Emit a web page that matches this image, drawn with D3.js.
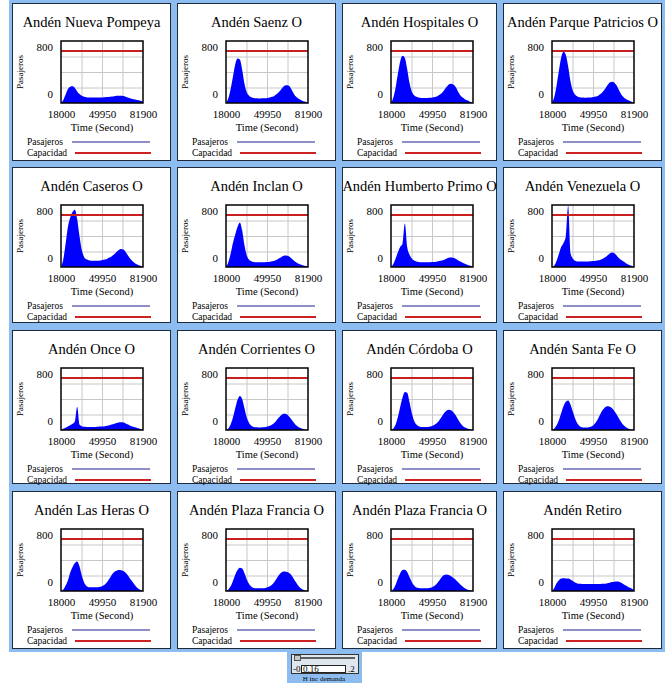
<!DOCTYPE html>
<html lang="es">

<head>
    <meta charset="UTF-8">
    <title>Andenes</title>
    <script src="https://d3js.org/d3.v7.min.js"></script>
</head>
<style>
    body {
        margin: 0;
        background: #fff;
    }

    svg text {
        font-family: "Liberation Serif", "Times New Roman", Times, "DejaVu Serif", serif !important;
        fill: #000;
    }

    .grid line {
        stroke: #c8c8c8;
        stroke-width: 1px;
    }

    .grid path {
        stroke-width: 0;
    }

    .ejeX path,
    .ejeY path {
        stroke-width: 0;
    }
</style>

<body>
    <div id="chart"></div>
</body>
<script>
    // datos
    const tiempo = [18000, 19800, 21600, 23400, 25200, 27000, 28800, 30600, 32400, 34200, 36000, 37800, 39600, 41400, 43200, 45000, 46800, 48600, 50400, 52200, 54000, 55800, 57600, 59400, 61200, 63000, 64800, 66600, 68400, 70200, 72000, 73800, 75600, 77400, 79200, 81000, 81900];

    const andenes = ["Andén Nueva Pompeya", "Andén Saenz O", "Andén Hospitales O", "Andén Parque Patricios O",
        "Andén Caseros O", "Andén Inclan O", "Andén Humberto Primo O", "Andén Venezuela O",
        "Andén Once O", "Andén Corrientes O", "Andén Córdoba O", "Andén Santa Fe O",
        "Andén Las Heras O", "Andén Plaza Francia O", "Andén Plaza Francia O", "Andén Retiro"];

    const nuevaPompeya = [0, 40, 110, 180, 210, 215, 195, 150, 115, 95, 82, 75, 72, 70, 70, 70, 70, 70, 72, 74, 76, 80, 84, 88, 92, 95, 94, 90, 82, 72, 62, 52, 44, 38, 32, 25, 10];
    const saenz = [0, 60, 180, 340, 500, 575, 560, 430, 250, 140, 95, 75, 65, 60, 58, 58, 60, 62, 66, 72, 80, 95, 115, 145, 180, 215, 230, 225, 195, 140, 90, 65, 45, 30, 18, 8, 0];
    const hospitales = [0, 70, 200, 380, 540, 610, 580, 440, 260, 150, 100, 80, 70, 66, 64, 64, 66, 68, 72, 78, 88, 105, 130, 165, 205, 240, 250, 240, 205, 150, 100, 70, 50, 34, 20, 8, 0];
    const parquePatricios = [0, 80, 230, 420, 590, 660, 620, 470, 280, 160, 105, 85, 75, 70, 68, 68, 70, 72, 76, 84, 95, 115, 145, 185, 230, 265, 275, 262, 225, 165, 110, 75, 52, 35, 22, 10, 0];
    const caseros = [0, 100, 300, 520, 640, 710, 740, 620, 400, 220, 130, 100, 88, 82, 80, 80, 82, 85, 90, 98, 108, 122, 140, 165, 195, 220, 232, 225, 195, 150, 105, 75, 50, 32, 18, 8, 0];
    const inclan = [0, 60, 170, 310, 420, 520, 575, 470, 280, 150, 95, 75, 66, 62, 60, 60, 60, 62, 64, 68, 74, 82, 95, 112, 130, 145, 150, 142, 120, 92, 68, 50, 36, 25, 15, 6, 0];
    const humbertoPrimo = [0, 40, 110, 190, 260, 300, 560, 260, 160, 110, 85, 72, 66, 62, 60, 60, 60, 62, 64, 66, 70, 76, 84, 95, 108, 118, 122, 118, 105, 88, 70, 55, 42, 30, 18, 8, 0];
    const venezuela = [0, 20, 80, 170, 260, 310, 400, 790, 180, 110, 80, 72, 70, 70, 70, 70, 72, 74, 76, 80, 86, 95, 108, 125, 150, 175, 186, 178, 150, 112, 90, 70, 48, 32, 18, 8, 0];
    const once = [0, 15, 30, 45, 60, 80, 110, 300, 70, 50, 42, 40, 40, 40, 40, 40, 42, 44, 46, 50, 55, 62, 70, 80, 90, 98, 100, 96, 85, 70, 56, 44, 34, 25, 16, 8, 0];
    const corrientes = [0, 20, 70, 160, 280, 390, 440, 400, 280, 160, 90, 55, 40, 35, 33, 33, 35, 38, 45, 55, 70, 95, 130, 165, 195, 210, 205, 185, 150, 110, 70, 45, 28, 16, 8, 3, 0];
    const cordoba = [0, 20, 70, 170, 300, 420, 490, 480, 360, 220, 120, 70, 48, 40, 38, 38, 40, 45, 55, 70, 95, 130, 175, 220, 250, 262, 255, 230, 190, 140, 90, 55, 32, 18, 10, 4, 0];
    const santaFe = [0, 20, 60, 130, 220, 310, 365, 380, 330, 240, 150, 85, 50, 36, 32, 32, 36, 45, 65, 100, 150, 210, 260, 295, 305, 300, 280, 245, 200, 150, 100, 60, 35, 18, 8, 3, 0];
    const lasHeras = [0, 20, 70, 140, 240, 310, 360, 380, 320, 200, 110, 65, 50, 48, 48, 48, 50, 55, 65, 85, 115, 160, 210, 245, 262, 270, 268, 258, 235, 200, 155, 115, 75, 42, 20, 6, 0];
    const plazaFrancia1 = [0, 20, 60, 130, 210, 270, 300, 290, 230, 150, 90, 55, 40, 36, 35, 35, 36, 40, 48, 62, 85, 120, 165, 210, 240, 252, 250, 240, 215, 175, 125, 80, 45, 22, 10, 3, 0];
    const plazaFrancia2 = [0, 25, 80, 160, 230, 270, 275, 245, 180, 115, 70, 45, 38, 35, 35, 35, 37, 42, 52, 70, 100, 140, 180, 205, 212, 205, 190, 170, 145, 115, 85, 58, 36, 20, 10, 3, 0];
    const retiro = [0, 40, 100, 140, 160, 165, 162, 160, 150, 130, 110, 98, 92, 90, 90, 90, 90, 90, 90, 90, 90, 90, 92, 95, 100, 108, 115, 120, 121, 118, 105, 88, 70, 52, 38, 22, 5];

    const capacidad = [670, 670, 670, 670, 670, 670, 670, 670, 670, 670, 670, 670, 670, 670, 670, 670];

    const xTicks = [18000, 49950, 81900];
    const xGrid = [33975, 49950, 65925];
    const yTicks = [0, 800];
    const yGrid = [200, 400, 600];
    const leyenda = ["Pasajeros", "Capacidad"];

    const slider = { min: "-0", valor: "0.16", max: ".2", nombre: "H inc demanda" };

    const series = [nuevaPompeya, saenz, hospitales, parquePatricios, caseros, inclan, humbertoPrimo, venezuela,
        once, corrientes, cordoba, santaFe, lasHeras, plazaFrancia1, plazaFrancia2, retiro];

    // layout
    const cols = [12, 177, 342, 503], widths = [159, 159, 155, 159];
    const rows = [3, 167, 330, 491], heights = [158, 156, 154, 158];
    const box = { left: 49, right: 131, top: 38, bottom: 100 };

    const svg = d3.select("#chart")
        .append("svg")
        .attr("width", 665)
        .attr("height", 683);

    // fondo azul
    svg.append("rect")
        .attr("x", 9).attr("y", 0)
        .attr("width", 656).attr("height", 652)
        .attr("fill", "#8dbdf0");

    const x = d3.scaleLinear().domain([18000, 81900]).range([box.left, box.right]);
    const y = d3.scaleLinear().domain([0, 800]).range([box.bottom, box.top]);

    const area = d3.area()
        .x((d, i) => x(tiempo[i]))
        .y0(y(0))
        .y1(d => y(d))
        .curve(d3.curveMonotoneX);

    series.forEach((data, k) => {
        const c = k % 4, r = Math.floor(k / 4);
        const w = widths[c], h = heights[r];
        const g = svg.append("g").attr("transform", `translate(${cols[c]}, ${rows[r]})`);

        g.append("rect")
            .attr("x", 0.5).attr("y", 0.5)
            .attr("width", w - 1).attr("height", h - 1)
            .attr("fill", "#fff")
            .attr("stroke", "#1e2a3a");

        g.append("text")
            .attr("x", w / 2).attr("y", 24)
            .attr("text-anchor", "middle")
            .style("font-size", "14.5px")
            .text(andenes[k]);

        // grid
        g.append("g")
            .attr("class", "grid")
            .attr("transform", `translate(0, ${box.bottom})`)
            .call(d3.axisBottom(x).tickValues(xGrid).tickSize(-(box.bottom - box.top)).tickFormat(""));
        g.append("g")
            .attr("class", "grid")
            .attr("transform", `translate(${box.left}, 0)`)
            .call(d3.axisLeft(y).tickValues(yGrid).tickSize(-(box.right - box.left)).tickFormat(""));

        g.append("path")
            .datum(data)
            .attr("d", area)
            .attr("fill", "#0000ff");

        g.append("line")
            .attr("x1", x(18000)).attr("x2", x(81900))
            .attr("y1", y(capacidad[k])).attr("y2", y(capacidad[k]))
            .attr("stroke", "#c82020")
            .attr("stroke-width", 2);

        g.append("rect")
            .attr("x", box.left).attr("y", box.top)
            .attr("width", box.right - box.left).attr("height", box.bottom - box.top)
            .attr("fill", "none")
            .attr("stroke", "#000")
            .attr("stroke-width", 1.5);

        // ejes
        const ax = g.append("g")
            .attr("class", "ejeX")
            .attr("transform", `translate(0, ${box.bottom})`)
            .call(d3.axisBottom(x).tickValues(xTicks).tickSize(0).tickPadding(7).tickFormat(d3.format("d")));
        ax.selectAll("text").style("font-size", "11px");

        const ay = g.append("g")
            .attr("class", "ejeY")
            .attr("transform", `translate(${box.left}, 0)`)
            .call(d3.axisLeft(y).tickValues(yTicks).tickSize(0).tickPadding(8));
        ay.selectAll("text")
            .style("font-size", "11px")
            .attr("dy", d => d === 800 ? "0.85em" : "-0.48em");

        g.append("text")
            .attr("x", (box.left + box.right) / 2).attr("y", 128)
            .attr("text-anchor", "middle")
            .style("font-size", "10.5px")
            .text("Time (Second)");

        g.append("text")
            .attr("transform", `translate(11, ${(box.top + box.bottom) / 2}) rotate(-90)`)
            .attr("text-anchor", "middle")
            .style("font-size", "9px")
            .text("Pasajeros");

        // leyenda
        g.append("text").attr("x", 15).attr("y", 142).style("font-size", "9.5px").text(leyenda[0]);
        g.append("line")
            .attr("x1", 60).attr("x2", 138).attr("y1", 139).attr("y2", 139)
            .attr("stroke", "#6a6ab4").attr("stroke-width", 1.3);
        g.append("text").attr("x", 15).attr("y", 153).style("font-size", "9.5px").text(leyenda[1]);
        g.append("line")
            .attr("x1", 63).attr("x2", 139).attr("y1", 150).attr("y2", 150)
            .attr("stroke", "#cc2222").attr("stroke-width", 2);
    });

    // control deslizante
    const s = svg.append("g");
    s.append("rect").attr("x", 287).attr("y", 652).attr("width", 75).attr("height", 31).attr("fill", "#8dbdf0");
    s.append("rect").attr("x", 291.5).attr("y", 654.5).attr("width", 67).attr("height", 19)
        .attr("fill", "#dfe6ee").attr("stroke", "#333");
    s.append("line").attr("x1", 295).attr("x2", 355).attr("y1", 658).attr("y2", 658)
        .attr("stroke", "#333").attr("stroke-width", 1.5);
    s.append("rect").attr("x", 294.5).attr("y", 655.5).attr("width", 6).attr("height", 5)
        .attr("fill", "#c8c8c8").attr("stroke", "#555");
    s.append("rect").attr("x", 301.5).attr("y", 665.5).attr("width", 44).attr("height", 7)
        .attr("fill", "#fff").attr("stroke", "#222");
    s.append("text").attr("x", 293).attr("y", 672).style("font-size", "9px").text(slider.min);
    s.append("text").attr("x", 303).attr("y", 672).style("font-size", "9px").text(slider.valor);
    s.append("text").attr("x", 348).attr("y", 672).style("font-size", "9px").text(slider.max);
    s.append("text").attr("x", 324).attr("y", 681).attr("text-anchor", "middle").style("font-size", "7px").text(slider.nombre);
</script>

</html>
